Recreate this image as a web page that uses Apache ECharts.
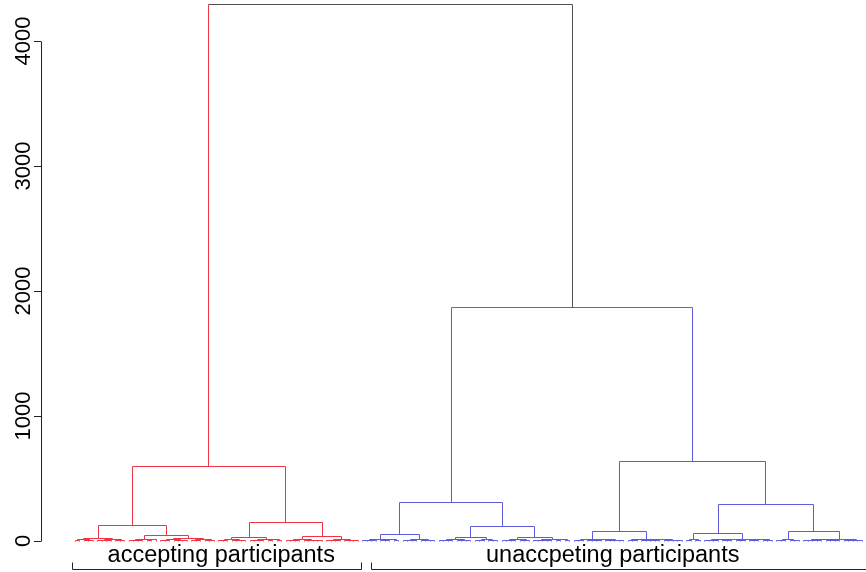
<!DOCTYPE html>
<html>
<head>
<meta charset="utf-8">
<script src="https://cdn.jsdelivr.net/npm/echarts@6/dist/echarts.min.js"></script>
<style>
  html, body { margin: 0; padding: 0; background: #ffffff; }
  #chart { width: 866px; height: 572px; }
</style>
</head>
<body>
<div id="chart"></div>
<script>
// Dendrogram of participants. A leaf is 0, a merge is [height, left, right].
const rootHeight = 4290;
const clusterHeights = [600, 1872];          // accepting (red), unaccepting (blue)
const yTicks = [0, 1000, 2000, 3000, 4000];
const groupLabels = ['accepting participants', 'unaccpeting participants'];
// leaf-index spans of the brackets under each group, and the leaf range each label is centred on
const groupBrackets = [[-0.45, 63.6], [65.8, 178]];
const groupLeafRanges = [[1, 64], [64, 175]];

// accepting participants
const redA = [24, [10, [4, 0, 0], [6, [2, 0, 0], 0]], [14, [8, [3, 0, 0], [5, 0, 0]], [6, [2, 0, 0], 0]]];
const redB = [48, [16, [6, [2, 0, 0], [4, 0, 0]], [9, [3, 0, 0], 0]],
  [20, [10, [4, [2, 0, 0], 0], [6, [3, 0, 0], [2, 0, 0]]], [12, [5, 0, [2, 0, 0]], [7, [3, 0, 0], 0]]]];
const redC = [32, [12, [5, [2, 0, 0], 0], [8, [3, 0, 0], [4, 0, 0]]], [16, [6, [3, 0, 0], [2, 0, 0]], [9, [4, 0, 0], [3, 0, 0]]]];
const redD = [40, [14, [6, [3, 0, 0], [2, 0, 0]], [8, [4, 0, 0], [5, 0, [2, 0, 0]]]],
  [12, [5, [2, 0, 0], [3, 0, 0]], [7, 0, [3, [2, 0, 0], 0]]]];

// unaccepting participants
const blueE1 = [56, [14, [6, [2, 0, 0], [3, 0, 0]], [9, [4, 0, [2, 0, 0]], [3, 0, 0]]],
  [12, [5, [2, 0, 0], [3, 0, 0]], [7, [4, 0, 0], [2, 0, 0]]]];
const blueE2 = [120,
  [32, [12, [6, [2, 0, 0], [3, 0, 0]], [8, [4, 0, 0], [2, 0, 0]]], [10, [4, [2, 0, 0], 0], [5, 0, [2, 0, 0]]]],
  [32, [14, [6, [3, 0, 0], [2, 0, 0]], [8, [4, 0, 0], 0]], [16, [7, [2, 0, 0], [3, 0, [2, 0, 0]]], [9, [4, 0, 0], [3, 0, 0]]]]];
const blueF1 = [80,
  [16, [6, [2, 0, 0], 0], [12, [5, [2, 0, 0], [3, 0, 0]], [8, [4, 0, [2, 0, 0]], [3, 0, 0]]]],
  [16, [5, 0, [2, 0, 0]], [12, [6, [2, 0, 0], [4, 0, [2, 0, 0]]], [8, [3, 0, 0], [5, [2, 0, 0], 0]]]]];
const blueF2 = [296,
  [64, [16, [3, 0, 0], [6, 0, 0]],
    [16, [12, [6, [2, 0, 0], [3, 0, 0]], [9, [4, 0, [2, 0, 0]], [3, 0, [2, 0, 0]]]], [10, [4, [2, 0, 0], 0], [5, [3, 0, 0], 0]]]],
  [80, [16, [6, [2, 0, 0], 0], [8, 0, [3, 0, 0]]],
    [16, [10, [5, [2, 0, 0], [3, 0, [2, 0, 0]]], [7, [2, 0, 0], [4, 0, 0]]], [8, [3, [2, 0, 0], [2, 0, 0]], 0]]]];

const redTree = [clusterHeights[0], [128, redA, redB], [152, redC, redD]];
const blueTree = [clusterHeights[1], [312, blueE1, blueE2], [640, blueF1, blueF2]];

const RED = '#f03444';
const BLUE = '#5c5cdc';
const GRAY = '#505050';
const FONT = '"Liberation Sans", Arial, Helvetica, sans-serif';

// Lay the leaves out left to right and collect one link per merge
const links = [];
let nextLeaf = 0;
function layout(node, color) {
  if (node === 0) return { x: nextLeaf++, h: 0 };
  const l = layout(node[1], color);
  const r = layout(node[2], color);
  links.push({ value: [l.x, l.h, r.x, r.h, node[0], 0], itemStyle: { color: color } });
  return { x: (l.x + r.x) / 2, h: node[0] };
}
const redRoot = layout(redTree, RED);
const blueRoot = layout(blueTree, BLUE);
// root: top bar and right leg in gray, left leg in red
links.push({ value: [redRoot.x, redRoot.h, blueRoot.x, blueRoot.h, rootHeight, 2], itemStyle: { color: GRAY } });
links.push({ value: [redRoot.x, redRoot.h, blueRoot.x, blueRoot.h, rootHeight, 1], itemStyle: { color: RED } });

const xMin = -7.556, xMax = 175.78;
const snap = v => Math.round(v - 0.5) + 0.5;

function renderLink(params, api) {
  const kind = api.value(5);
  const p = (x, y) => { const c = api.coord([x, y]); return [snap(c[0]), snap(c[1])]; };
  const a = p(api.value(0), api.value(1));
  const b = p(api.value(0), api.value(4));
  const c = p(api.value(2), api.value(4));
  const d = p(api.value(2), api.value(3));
  const pts = kind === 1 ? [a, b] : (kind === 2 ? [b, c, d] : [a, b, c, d]);
  return {
    type: 'polyline',
    shape: { points: pts },
    style: { stroke: api.visual('color'), lineWidth: 1, fill: null }
  };
}

function renderAxisLine(params, api) {
  const x = snap(params.coordSys.x);
  const y0 = snap(api.coord([xMin, api.value(0)])[1]);
  const y1 = snap(api.coord([xMin, api.value(1)])[1]);
  return { type: 'line', shape: { x1: x, y1: y0, x2: x, y2: y1 }, style: { stroke: '#222', lineWidth: 1 } };
}

function renderGroup(params, api) {
  const base = api.coord([0, 0])[1];
  const x0 = snap(api.coord([api.value(0), 0])[0]);
  const x1 = snap(api.coord([api.value(1), 0])[0]);
  const mid = (api.coord([api.value(2), 0])[0] + api.coord([api.value(3), 0])[0]) / 2;
  const yb = snap(base + 28);
  return {
    type: 'group',
    children: [
      { type: 'polyline', shape: { points: [[x0, yb - 7], [x0, yb], [x1, yb], [x1, yb - 7]] },
        style: { stroke: '#222', lineWidth: 1, fill: null } },
      { type: 'text', style: { text: groupLabels[params.dataIndex], x: mid, y: base + 15,
        align: 'center', verticalAlign: 'middle', fontSize: 23.5, fontFamily: FONT, fill: '#000' } }
    ]
  };
}

const chart = echarts.init(document.getElementById('chart'), null, { renderer: 'canvas' });
chart.setOption({
  animation: false,
  backgroundColor: '#ffffff',
  grid: { left: 41, right: 0, top: 3.5, bottom: 31, containLabel: false },
  xAxis: { type: 'value', min: xMin, max: xMax, show: false },
  yAxis: {
    type: 'value', min: 0, max: 4300, interval: 1000,
    axisLine: { show: false, onZero: false },
    splitLine: { show: false },
    axisTick: { show: true, length: 7, customValues: yTicks, lineStyle: { color: '#222', width: 1 } },
    axisLabel: { show: true, customValues: yTicks, rotate: 90, margin: 6, fontSize: 22,
      fontFamily: FONT, color: '#000', formatter: v => String(v) }
  },
  series: [
    { type: 'custom', renderItem: renderLink, data: links, encode: { x: [0, 2], y: [1, 3, 4] }, silent: true },
    { type: 'custom', renderItem: renderAxisLine, data: [[yTicks[0], yTicks[yTicks.length - 1]]],
      encode: { y: [0, 1] }, silent: true },
    { type: 'custom', renderItem: renderGroup,
      data: groupBrackets.map((b, i) => [b[0], b[1], groupLeafRanges[i][0], groupLeafRanges[i][1]]),
      encode: { x: [0, 1] }, silent: true }
  ]
});
</script>
</body>
</html>
